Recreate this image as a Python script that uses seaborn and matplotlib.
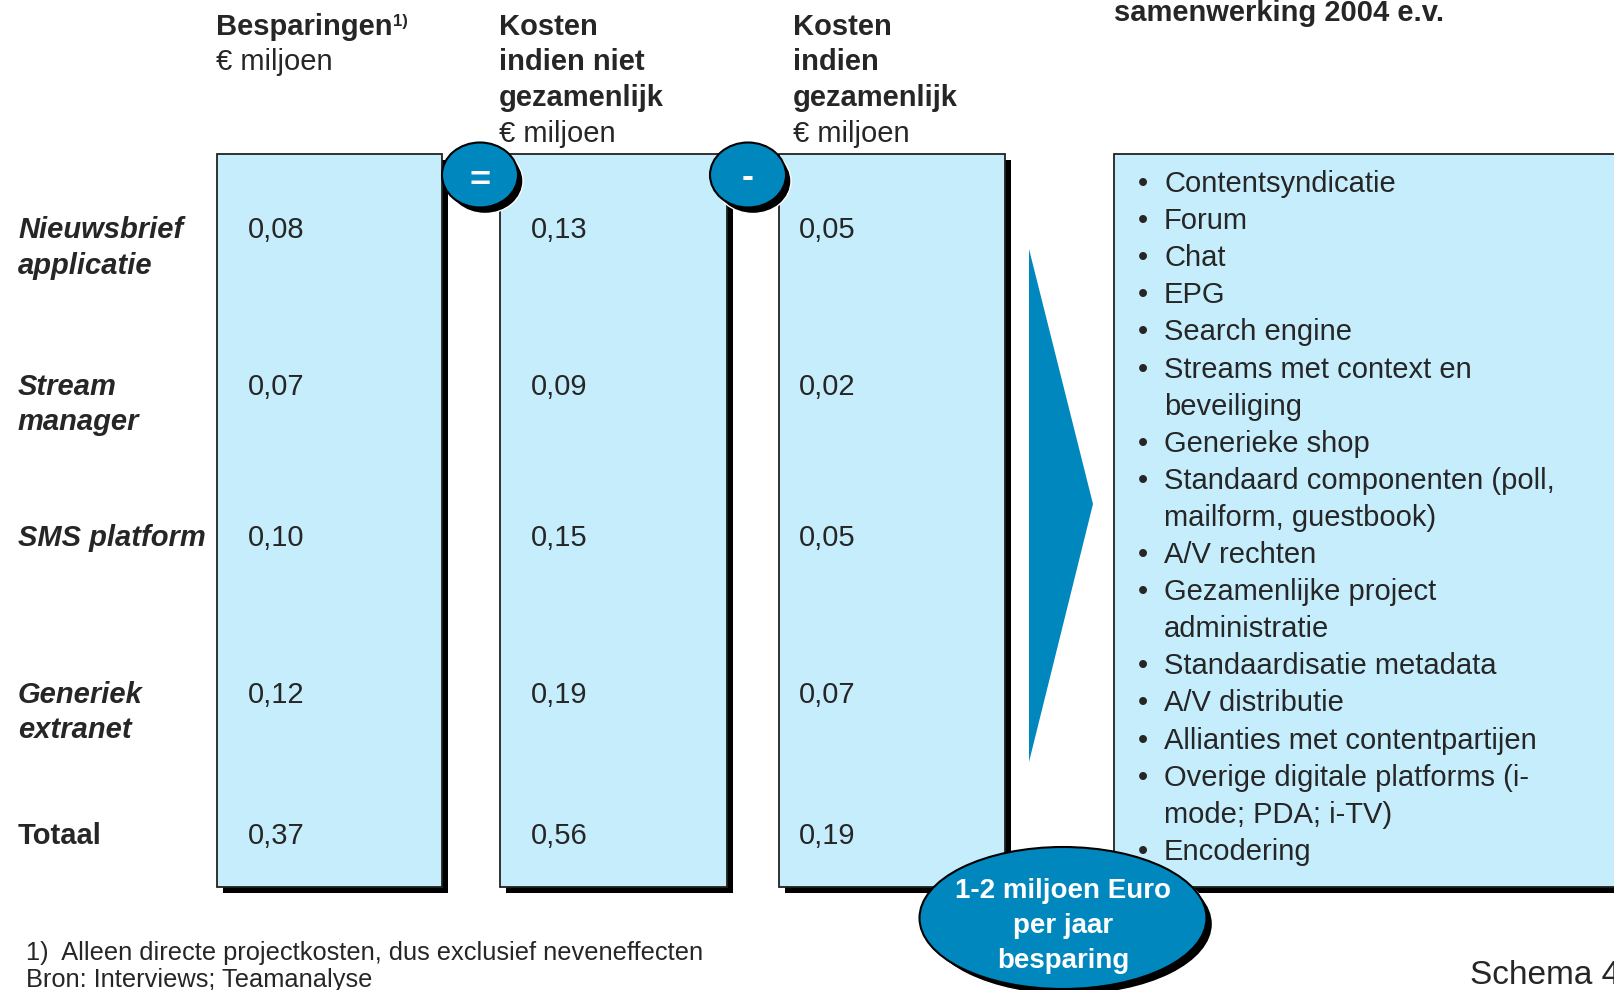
import matplotlib
matplotlib.use("Agg")
import matplotlib.pyplot as plt
import seaborn as sns
from matplotlib.patches import Rectangle, Ellipse, Polygon

sns.set_theme(style="white")
plt.rcParams['font.family'] = ['Liberation Sans', 'DejaVu Sans']

# data
rows = ["Nieuwsbrief\napplicatie", "Stream\nmanager", "SMS platform", "Generiek\nextranet", "Totaal"]
besparingen = [0.08, 0.07, 0.10, 0.12, 0.37]
kosten_niet_gezamenlijk = [0.13, 0.09, 0.15, 0.19, 0.56]
kosten_gezamenlijk = [0.05, 0.02, 0.05, 0.07, 0.19]
headers = [["Besparingen", "€ miljoen"],
           ["Kosten", "indien niet", "gezamenlijk", "€ miljoen"],
           ["Kosten", "indien", "gezamenlijk", "€ miljoen"]]
operators = ["=", "-"]
projecten = ["Contentsyndicatie", "Forum", "Chat", "EPG", "Search engine",
             "Streams met context en\nbeveiliging", "Generieke shop",
             "Standaard componenten (poll,\nmailform, guestbook)", "A/V rechten",
             "Gezamenlijke project\nadministratie", "Standaardisatie metadata",
             "A/V distributie", "Allianties met contentpartijen",
             "Overige digitale platforms (i-\nmode; PDA; i-TV)", "Encodering"]
conclusie = "1-2 miljoen Euro\nper jaar\nbesparing"

LIGHT = "#C5EDFC"
DARK = "#0087BE"

fig = plt.figure(figsize=(16.14, 9.9), dpi=100)
ax = fig.add_axes([0, 0, 1, 1])
ax.set_xlim(0, 1614)
ax.set_ylim(990, 0)
ax.axis("off")

# layout
col_x = [(217, 442), (500, 727), (779, 1005)]
header_x = [216, 499, 793]
value_x = [248, 531, 799]
box_top, box_bot = 154, 887
shadow = 6
row_y = [230, 387, 538, 695, 836]
line_h = 35.5
fs = 21


def shadow_box(x0, x1, y0, y1):
    ax.add_patch(Rectangle((x0 + shadow, y0 + shadow), x1 - x0, y1 - y0,
                           facecolor="black", edgecolor="none", zorder=1))
    ax.add_patch(Rectangle((x0, y0), x1 - x0, y1 - y0,
                           facecolor=LIGHT, edgecolor="#222222", lw=1.3, zorder=2))


for x0, x1 in col_x:
    shadow_box(x0, x1, box_top, box_bot)
shadow_box(1114, 1700, box_top, box_bot)

# column headers
for hx, lines in zip(header_x, headers):
    for i, line in enumerate(lines):
        bold = not line.startswith("€")
        t = ax.text(hx, 27 + i * line_h, line, fontsize=fs,
                    fontweight="bold" if bold else "normal", va="center", ha="left")
        if line == "Besparingen":
            ax.annotate("1)", xy=(1.0, 0.95), xycoords=t, fontsize=12,
                        fontweight="bold", va="top", ha="left")

ax.text(1114, 21, "samenwerking 2004 e.v.", fontsize=fs, fontweight="bold",
        va="baseline", ha="left")

# row labels and values
for r, label in enumerate(rows):
    style = "normal" if label == "Totaal" else "italic"
    for i, line in enumerate(label.split("\n")):
        ax.text(18, row_y[r] + i * line_h, line, fontsize=fs, fontweight="bold",
                fontstyle=style, va="center", ha="left")
    for vx, series in zip(value_x, [besparingen, kosten_niet_gezamenlijk, kosten_gezamenlijk]):
        ax.text(vx, row_y[r], f"{series[r]:.2f}".replace(".", ","),
                fontsize=fs, va="center", ha="left", zorder=5)

# operator circles
for cx, op, ty in zip([480, 748], operators, [181, 177]):
    ax.add_patch(Ellipse((cx + 5, 181), 76, 65, facecolor="black", zorder=3))
    ax.add_patch(Ellipse((cx, 175), 76, 65, facecolor=DARK, edgecolor="black",
                         lw=1.5, zorder=4))
    ax.text(cx, ty, op, fontsize=26, fontweight="bold", color="white",
            ha="center", va="center", zorder=5)

# arrow
ax.add_patch(Polygon([(1029, 249), (1093, 504), (1029, 762)], closed=True,
                     facecolor=DARK, edgecolor="none", zorder=3))

# project list
y = 184
for item in projecten:
    for i, line in enumerate(item.split("\n")):
        if i == 0:
            ax.text(1143, y, "•", fontsize=fs, va="center", ha="center", zorder=7)
        ax.text(1164, y, line, fontsize=fs, va="center", ha="left", zorder=7)
        y += 37.1

# conclusion ellipse
ax.add_patch(Ellipse((1069, 924), 287, 142, facecolor="black", zorder=5))
ax.add_patch(Ellipse((1063, 918), 287, 142, facecolor=DARK, edgecolor="black",
                     lw=1.5, zorder=6))
for i, line in enumerate(conclusie.split("\n")):
    ax.text(1063, 891 + i * 35, line, fontsize=20, fontweight="bold", color="white",
            ha="center", va="center", zorder=7)

# footnotes
ax.text(26, 953, "1)  Alleen directe projectkosten, dus exclusief neveneffecten",
        fontsize=18.3, va="center", ha="left")
ax.text(26, 980, "Bron: Interviews; Teamanalyse", fontsize=18.3, va="center", ha="left")
ax.text(1470, 975, "Schema 4", fontsize=24, va="center", ha="left")

fig.savefig("out.png", dpi=100)
